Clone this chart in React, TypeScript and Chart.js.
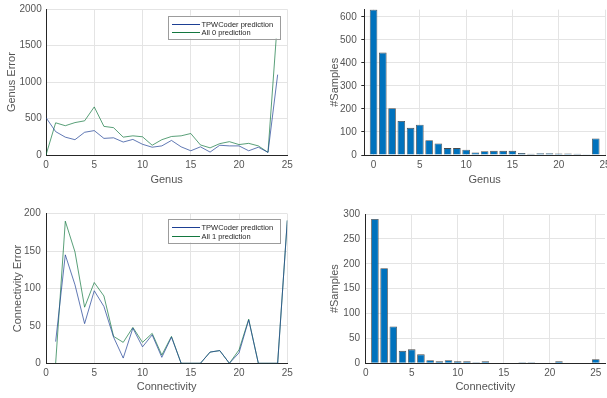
import React, { useEffect, useRef } from "react";
import { Chart, registerables } from "chart.js";

Chart.register(...registerables);

// ---------------- data ----------------
const genusCategories = [0, 1, 2, 3, 4, 5, 6, 7, 8, 9, 10, 11, 12, 13, 14, 15, 16, 17, 18, 19, 20, 21, 22, 23, 24];
const genusTpwError = [513, 321, 245, 210, 312, 335, 228, 236, 178, 214, 147, 107, 125, 200, 112, 58, 112, 40, 134, 125, 125, 58, 107, 36, 1103];
const genusAllZeroError = [0, 442, 402, 445, 469, 660, 393, 375, 245, 263, 250, 134, 210, 254, 263, 295, 138, 98, 156, 183, 143, 160, 125, 36, 1880];
const genusSampleCounts = [632, 445, 203, 148, 118, 132, 64, 50, 30, 30, 23, 11, 16, 18, 18, 18, 9, 5, 8, 8, 6, 7, 5, 1, 72];

const connCategories = [1, 2, 3, 4, 5, 6, 7, 8, 9, 10, 11, 12, 13, 14, 15, 16, 17, 18, 19, 20, 21, 22, 23, 24, 25];
const connTpwError = [29, 145, 105, 53, 97, 76, 35, 7, 47, 22, 38, 8, 35, 0, 0, 0, 15, 17, 0, 14, 58, 0, 0, 0, 191];
const connAllOneError = [0, 190, 149, 75, 108, 90, 36, 28, 48, 28, 40, 11, 36, 0, 0, 0, 15, 17, 0, 18, 59, 0, 0, 0, 191];
const connSampleCounts = [290, 191, 74, 25, 28, 18, 6, 4, 6, 4, 4, 2, 4, 0, 0, 0, 2, 2, 0, 1, 4, 0, 0, 0, 8];

const xTickValues = [0, 5, 10, 15, 20, 25];
const genusErrorTicks = [0, 500, 1000, 1500, 2000];
const genusCountTicks = [0, 100, 200, 300, 400, 500, 600];
const connErrorTicks = [0, 50, 100, 150, 200];
const connCountTicks = [0, 50, 100, 150, 200, 250, 300];

const tpwLabel = "TPWCoder prediction";
const allZeroLabel = "All 0 prediction";
const allOneLabel = "All 1 prediction";

// ---------------- styles ----------------
const FONT = "'Liberation Sans', Arial, Helvetica, sans-serif";
const BLUE = "#1d3f94";
const GREEN = "#13773f";
const BAR = "#0072BD";
const GRID = "#e4e4e4";
const AXIS = "#262626";
const TICK = "#555555";
const TITLE = "#555555";

const boxLegend = {
  id: "boxLegend",
  afterDatasetsDraw(chart: any, _args: any, opts: any) {
    if (!opts || !opts.display) return;
    const { ctx, chartArea } = chart;
    const right = chartArea.right - opts.insetRight;
    const top = chartArea.top + opts.insetTop;
    const left = right - opts.width;
    ctx.save();
    ctx.fillStyle = "#ffffff";
    ctx.fillRect(left, top, opts.width, opts.height);
    ctx.strokeStyle = "#9c9c9c";
    ctx.lineWidth = 1;
    ctx.strokeRect(Math.round(left) + 0.5, Math.round(top) + 0.5, Math.round(opts.width), Math.round(opts.height));
    ctx.font = `7.5px ${FONT}`;
    ctx.textBaseline = "middle";
    ctx.textAlign = "left";
    chart.data.datasets.forEach((ds: any, i: number) => {
      const y = Math.round(top + opts.firstRow + i * opts.rowGap) + 0.5;
      ctx.strokeStyle = ds.borderColor;
      ctx.lineWidth = 1;
      ctx.beginPath();
      ctx.moveTo(left + 4, y);
      ctx.lineTo(left + 32, y);
      ctx.stroke();
      ctx.fillStyle = "#262626";
      ctx.fillText(ds.label, left + 33.5, y);
    });
    ctx.restore();
  },
};

type Spec = {
  left: number; top: number; width: number; height: number;
  type: "line" | "bar";
  datasets: any[];
  xMin: number; xMax: number; yMin: number; yMax: number;
  xTicks: number[]; yTicks: number[];
  xTitle: string; yTitle: string;
  yAxisW: number; xAxisH: number; padTop: number; padRight: number;
  xTickPad: number; yTickPad: number; xTitlePad: number; yTitlePad: number;
  yTickMarks?: boolean;
  legend?: any;
};

function buildConfig(p: Spec): any {
  return {
    type: p.type,
    data: { datasets: p.datasets },
    plugins: [boxLegend],
    options: {
      responsive: false,
      animation: false,
      events: [],
      layout: { padding: { top: p.padTop, right: p.padRight, left: 0, bottom: 0 } },
      plugins: {
        legend: { display: false },
        tooltip: { enabled: false },
        boxLegend: p.legend ?? { display: false },
      },
      scales: {
        x: {
          type: "linear",
          min: p.xMin,
          max: p.xMax,
          offset: false,
          afterFit: (s: any) => { s.height = p.xAxisH; },
          afterBuildTicks: (s: any) => { s.ticks = p.xTicks.map((v) => ({ value: v })); },
          grid: { color: GRID, offset: false, drawTicks: false, lineWidth: 1 },
          border: { color: AXIS, width: 1 },
          ticks: {
            font: { family: FONT, size: 10, lineHeight: 1 },
            color: TICK,
            padding: p.xTickPad,
            maxRotation: 0,
            autoSkip: false,
            callback: (v: any) => String(v),
          },
          title: {
            display: true,
            text: p.xTitle,
            font: { family: FONT, size: 11 },
            color: TITLE,
            padding: { top: 0, bottom: p.xTitlePad },
          },
        },
        y: {
          type: "linear",
          min: p.yMin,
          max: p.yMax,
          afterFit: (s: any) => { s.width = p.yAxisW; },
          afterBuildTicks: (s: any) => { s.ticks = p.yTicks.map((v) => ({ value: v })); },
          grid: {
            color: GRID,
            drawTicks: !!p.yTickMarks,
            tickLength: 3,
            tickColor: AXIS,
            lineWidth: 1,
          },
          border: { color: AXIS, width: 1 },
          ticks: {
            font: { family: FONT, size: 10, lineHeight: 1 },
            color: TICK,
            padding: p.yTickPad,
            autoSkip: false,
            callback: (v: any) => String(v),
          },
          title: {
            display: true,
            text: p.yTitle,
            font: { family: FONT, size: 11 },
            color: TITLE,
            padding: { top: p.yTitlePad, bottom: 0 },
          },
        },
      },
    },
  };
}

const lineDs = (label: string, xs: number[], ys: number[], color: string) => ({
  label,
  data: xs.map((x, i) => ({ x, y: ys[i] })),
  borderColor: color,
  backgroundColor: color,
  borderWidth: 0.7,
  pointRadius: 0,
  tension: 0,
  fill: false,
});

const barDs = (label: string, xs: number[], ys: number[]) => ({
  label,
  data: xs.map((x, i) => ({ x, y: ys[i] })),
  backgroundColor: BAR,
  borderColor: "#4a4a4a",
  borderWidth: 0.8,
  categoryPercentage: 1,
  barPercentage: 0.82,
});

const specs: Spec[] = [
  {
    left: 0, top: 0, width: 300, height: 200, type: "line",
    datasets: [
      lineDs(tpwLabel, genusCategories, genusTpwError, BLUE),
      lineDs(allZeroLabel, genusCategories, genusAllZeroError, GREEN),
    ],
    xMin: 0, xMax: 25, yMin: 0, yMax: 2000,
    xTicks: xTickValues, yTicks: genusErrorTicks,
    xTitle: "Genus", yTitle: "Genus Error",
    yAxisW: 46, xAxisH: 45, padTop: 5.7, padRight: 12.7,
    xTickPad: 5, yTickPad: 4.3, xTitlePad: 13.4, yTitlePad: 5.1,
    legend: { display: true, insetRight: 7.3, insetTop: 6.3, width: 112, height: 23, firstRow: 8.7, rowGap: 8 },
  },
  {
    left: 300, top: 0, width: 320, height: 200, type: "bar",
    datasets: [barDs("#Samples", genusCategories, genusSampleCounts)],
    xMin: -1, xMax: 25, yMin: 0, yMax: Math.max(...genusSampleCounts),
    xTicks: xTickValues, yTicks: genusCountTicks,
    xTitle: "Genus", yTitle: "#Samples",
    yAxisW: 64.3, xAxisH: 45, padTop: 5, padRight: 15,
    xTickPad: 5, yTickPad: 4.6, xTitlePad: 13.4, yTitlePad: 28.4,
    yTickMarks: true,
  },
  {
    left: 0, top: 200, width: 300, height: 198, type: "line",
    datasets: [
      lineDs(tpwLabel, connCategories, connTpwError, BLUE),
      lineDs(allOneLabel, connCategories, connAllOneError, GREEN),
    ],
    xMin: 0, xMax: 25, yMin: 0, yMax: 200,
    xTicks: xTickValues, yTicks: connErrorTicks,
    xTitle: "Connectivity", yTitle: "Connectivity Error",
    yAxisW: 46, xAxisH: 34.7, padTop: 13.7, padRight: 12.7,
    xTickPad: 5, yTickPad: 5.3, xTitlePad: 4.1, yTitlePad: 11.7,
    legend: { display: true, insetRight: 7.3, insetTop: 5.2, width: 112, height: 23.5, firstRow: 8.5, rowGap: 8.2 },
  },
  {
    left: 300, top: 200, width: 320, height: 198, type: "bar",
    datasets: [barDs("#Samples", connCategories, connSampleCounts)],
    xMin: 0, xMax: 26, yMin: 0, yMax: 300,
    xTicks: xTickValues, yTicks: connCountTicks,
    xTitle: "Connectivity", yTitle: "#Samples",
    yAxisW: 65.7, xAxisH: 34.7, padTop: 14, padRight: 15,
    xTickPad: 5, yTickPad: 5.7, xTitlePad: 4.1, yTitlePad: 28.4,
  },
];

function ChartPanel({ spec }: { spec: Spec }) {
  const ref = useRef<HTMLCanvasElement | null>(null);
  useEffect(() => {
    if (!ref.current) return;
    const chart = new Chart(ref.current, buildConfig(spec));
    return () => chart.destroy();
  }, [spec]);
  return (
    <canvas
      ref={ref}
      width={spec.width}
      height={spec.height}
      style={{ position: "absolute", left: spec.left, top: spec.top, width: spec.width, height: spec.height }}
    />
  );
}

export default function App() {
  return (
    <div
      style={{
        position: "fixed",
        left: 0,
        top: 0,
        width: 607,
        height: 398,
        overflow: "hidden",
        background: "#ffffff",
      }}
    >
      {specs.map((s, i) => (
        <ChartPanel key={i} spec={s} />
      ))}
    </div>
  );
}
